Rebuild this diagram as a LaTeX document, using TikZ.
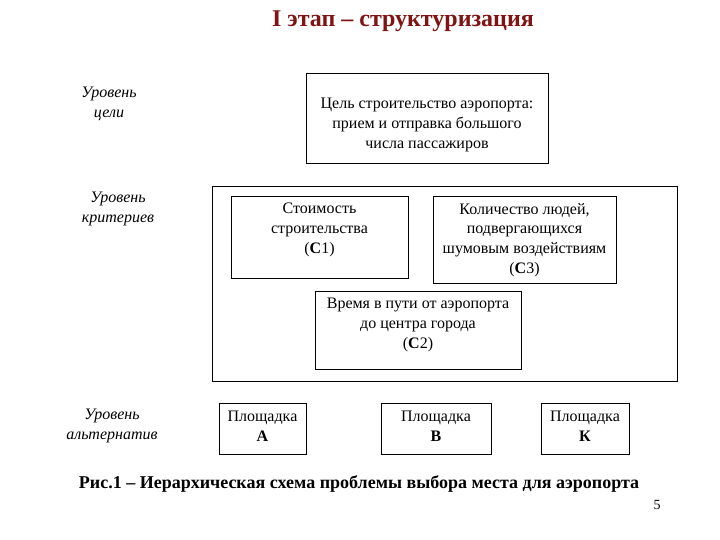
\documentclass[tikz,border=0pt]{standalone}
\usepackage{fontspec}
\setmainfont{Liberation Serif}
\definecolor{titlered}{RGB}{128,20,20}
\begin{document}
\begin{tikzpicture}[x=1pt,y=-1pt,
  box/.style={draw=black,line width=0.9pt,inner sep=0pt},
  btext/.style={align=center,font=\fontsize{16}{19.7}\selectfont,inner sep=0pt},
  lvl/.style={align=center,font=\fontsize{16}{20}\selectfont\itshape,inner sep=0pt}]
\useasboundingbox[fill=white] (0,0) rectangle (720,540);
\node[font=\fontsize{24}{28}\selectfont\bfseries,text=titlered] (title) at (403,21) {I этап – структуризация};
% level labels
\node[lvl] (l1) at (109,104) {Уровень\\цели};
\node[lvl] (l2) at (118,209) {Уровень\\критериев};
\node[lvl] (l3) at (112,426) {Уровень\\альтернатив};
% goal
\node[box,minimum width=242,minimum height=90] (goal) at (427,118) {};
\node[btext] (goalt) at (427,125) {Цель строительство аэропорта:\\прием и отправка большого\\числа пассажиров};
% frame
\node[box,minimum width=465,minimum height=195] (frame) at (444.5,283.5) {};
% criteria
\node[box,minimum width=177,minimum height=82] (c1) at (319.5,237) {};
\node[btext] (c1t) at (319.5,230) {Стоимость\\строительства\\(\textbf{С}1)};
\node[box,minimum width=183,minimum height=87] (c3) at (524.5,239.5) {};
\node[btext] (c3t) at (524.5,240) {Количество людей,\\подвергающихся\\шумовым воздействиям\\(\textbf{С}3)};
\node[box,minimum width=206,minimum height=78] (c2) at (418,330) {};
\node[btext] (c2t) at (418,325) {Время в пути от аэропорта\\до центра города\\(\textbf{С}2)};
% alternatives
\node[box,minimum width=87,minimum height=51] (a) at (262.5,428.5) {};
\node[btext] (at) at (262.5,426) {Площадка\\\textbf{А}};
\node[box,minimum width=110,minimum height=51] (b) at (436,428.5) {};
\node[btext] (bt) at (436,426) {Площадка\\\textbf{В}};
\node[box,minimum width=88,minimum height=51] (k) at (585,428.5) {};
\node[btext] (kt) at (585,426) {Площадка\\\textbf{К}};
% caption
\node[font=\fontsize{18}{20}\selectfont\bfseries] (cap) at (359,484) {Рис.1 – Иерархическая схема проблемы выбора места для аэропорта};
\node[font=\fontsize{14}{16}\selectfont] (pg) at (657,505) {5};
\end{tikzpicture}
\end{document}
